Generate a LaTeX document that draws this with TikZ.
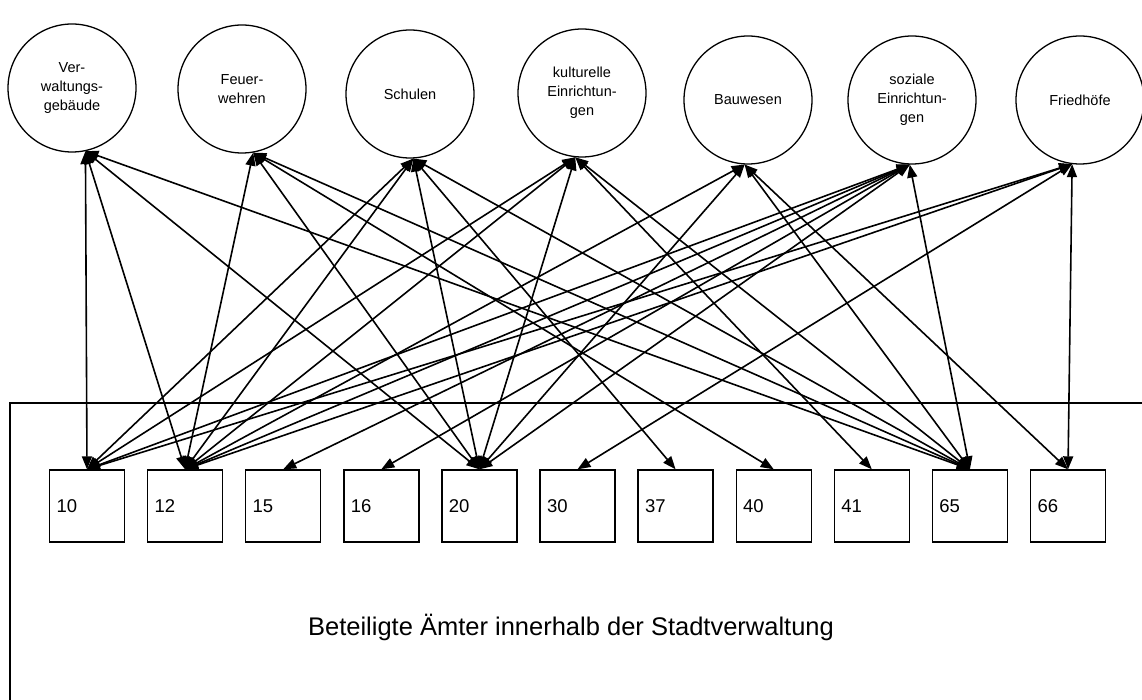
\documentclass[tikz,border=0pt]{standalone}
\usepackage{fontspec}
\setmainfont{Liberation Sans}
\usetikzlibrary{arrows.meta}
\tikzset{
  bereich/.style={circle,draw,line width=1.3pt,minimum size=128pt,inner sep=0pt,
    align=center,font=\fontsize{14.5}{19}\selectfont},
  amt/.style={draw,line width=1.4pt,minimum height=72pt,text width=61pt,inner xsep=7pt,
    align=left,font=\fontsize{18.5}{20}\selectfont},
  bez/.style={{Triangle[length=13pt,width=10pt]}-{Triangle[length=13pt,width=10pt]},line width=1.6pt},
}
\begin{document}
\begin{tikzpicture}[x=1pt,y=-1pt]
  \useasboundingbox (0,0) rectangle (1142,700);
  % Aufgabenbereiche
  \node[bereich] (verw) at (72,88) {Ver-\\waltungs-\\gebäude};
  \node[bereich] (feuer) at (242,89) {Feuer-\\wehren};
  \node[bereich] (schulen) at (410,94) {Schulen};
  \node[bereich] (kultur) at (582,93) {kulturelle\\Einrichtun-\\gen};
  \node[bereich] (bau) at (748,100) {Bauwesen};
  \node[bereich] (sozial) at (912,100) {soziale\\Einrichtun-\\gen};
  \node[bereich] (fried) at (1080,100) {Friedhöfe};
  % Rahmen Stadtverwaltung
  \draw[line width=1.4pt] (10,720) -- (10,403) -- (1160,403);
  \node[font=\fontsize{25.5}{30}\selectfont] (rahmen) at (571,627)
    {Beteiligte Ämter innerhalb der Stadtverwaltung};
  % Ämter
  \foreach \nr [count=\i from 0] in {10,12,15,16,20,30,37,40,41,65,66}
    \node[amt] (a\nr) at (87+98.1*\i,506) {\nr};
  % Verbindungen
  \foreach \nr in {10,12,20,65} \draw[bez] (verw.-78) -- (a\nr.north);
  \foreach \nr in {12,20,40,65} \draw[bez] (feuer.-80) -- (a\nr.north);
  \foreach \nr in {10,12,20,37,65} \draw[bez] (schulen.-87) -- (a\nr.north);
  \foreach \nr in {10,12,20,41,65} \draw[bez] (kultur.-96) -- (a\nr.north);
  \foreach \nr in {12,20,65,66} \draw[bez] (bau.-93) -- (a\nr.north);
  \foreach \nr in {10,12,15,16,20,65} \draw[bez] (sozial.-92) -- (a\nr.north);
  \foreach \nr in {10,12,30,66} \draw[bez] (fried.-97) -- (a\nr.north);
\end{tikzpicture}
\end{document}
